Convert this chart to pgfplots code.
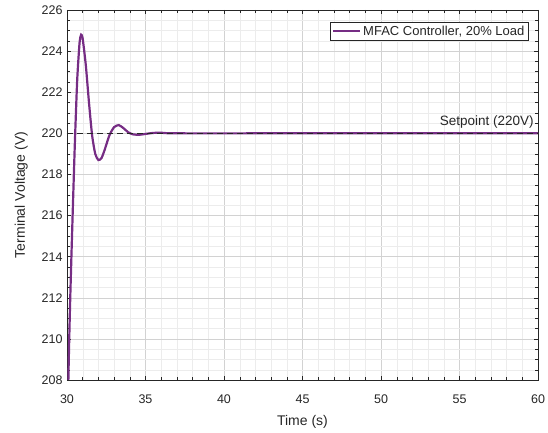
\documentclass[border=0pt]{standalone}
\usepackage{fontspec}
\setmainfont{Liberation Sans}
\usepackage{pgfplots}
\pgfplotsset{compat=1.18}
\definecolor{mfac}{RGB}{118,45,132}
\definecolor{axgray}{RGB}{38,38,38}
\begin{document}
\begin{tikzpicture}
\begin{axis}[
  scale only axis, width=471pt, height=370pt,
  xmin=30, xmax=60, ymin=208, ymax=226,
  xtick={30,35,...,60}, ytick={208,210,...,226},
  minor x tick num=4, minor y tick num=3,
  grid=both,
  major grid style={gray!35, line width=0.4pt},
  minor grid style={gray!15, line width=0.3pt},
  tick align=inside, tick style={axgray, line width=0.4pt},
  axis line style={axgray, line width=0.5pt},
  tick label style={font=\fontsize{12.5}{14}\selectfont, text=axgray},
  xticklabel style={yshift=-11pt},
  yticklabel style={xshift=-1pt},
  /pgf/number format/assume math mode=true,
  /pgf/number format/1000 sep={},
  xlabel={Time (s)}, ylabel={Terminal Voltage (V)},
  label style={font=\fontsize{14}{16}\selectfont, text=axgray},
  xlabel style={yshift=-5pt},
  ylabel style={yshift=7pt},
  legend style={at={(0.979,0.968)}, anchor=north east, draw=axgray, line width=0.5pt,
    font=\fontsize{13}{15}\selectfont, text=axgray, inner sep=1.5pt},
  legend image code/.code={\draw[#1, line width=2.2pt] (0pt,0pt) -- (0.95cm,0pt);},
  legend cell align=left,
  clip=true,
]
\addplot[mfac, line width=2.2pt, smooth, tension=0.4] coordinates {
(30.00,204.0) (30.10,208.5) (30.20,211.8) (30.35,215.8) (30.50,219.5) (30.65,222.6)
(30.80,224.4) (30.90,224.8) (31.00,224.6) (31.20,223.3) (31.40,221.5) (31.60,219.9)
(31.80,219.0) (32.00,218.7) (32.20,218.8) (32.40,219.2) (32.70,219.9) (33.00,220.3)
(33.30,220.4) (33.60,220.25) (33.90,220.05) (34.20,219.95) (34.60,219.93) (35.00,219.97)
(35.50,220.02) (36.00,220.03) (37.00,220.0) (45.00,220.0) (60.00,220.0)
};
\addlegendentry{MFAC Controller, 20\% Load}
\addplot[axgray, line width=1pt, dash pattern=on 6pt off 4pt, forget plot] coordinates {(30,220) (60,220)};
\node[anchor=south east, font=\fontsize{13.5}{15}\selectfont, text=axgray, inner sep=1pt] at (axis cs:59.8,220.2) {Setpoint (220V)};
\end{axis}
\pgfresetboundingbox
\path (-67pt,-53pt) rectangle (481pt,380pt);
\end{tikzpicture}
\end{document}
